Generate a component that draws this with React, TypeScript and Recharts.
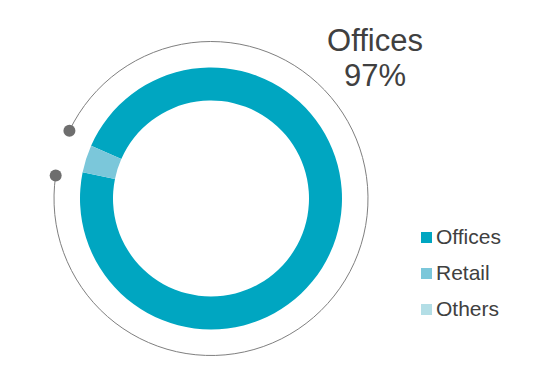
import React from 'react';
import { PieChart, Pie, Cell, Legend } from 'recharts';

const categories = ['Offices', 'Retail', 'Others'];
const shares = [96.6, 3.4, 0];
const colors = ['#00A6C1', '#7BC7DA', '#B3DEE6'];

const ringData = categories.map((name, i) => ({ name, value: shares[i] }));
const arcData = [{ name: 'arc', value: 1 }];

const RAD = Math.PI / 180;
const polar = (cx: number, cy: number, r: number, a: number) => ({
  x: cx + r * Math.cos(-a * RAD),
  y: cy + r * Math.sin(-a * RAD),
});

// thin gray arc with a dot on each end
const ArcShape = (props: any) => {
  const { cx, cy, outerRadius, startAngle, endAngle } = props;
  const p0 = polar(cx, cy, outerRadius, startAngle);
  const p1 = polar(cx, cy, outerRadius, endAngle);
  const large = Math.abs(startAngle - endAngle) > 180 ? 1 : 0;
  const sweep = startAngle > endAngle ? 1 : 0;
  return (
    <g>
      <path
        d={`M${p0.x},${p0.y} A${outerRadius},${outerRadius} 0 ${large} ${sweep} ${p1.x},${p1.y}`}
        fill="none"
        stroke="#7f7f7f"
        strokeWidth={1}
      />
      <circle cx={p0.x} cy={p0.y} r={6} fill="#6e6e6e" />
      <circle cx={p1.x} cy={p1.y} r={6} fill="#6e6e6e" />
    </g>
  );
};

const LegendContent = () => (
  <div style={{ fontFamily: '"Liberation Sans", Arial, sans-serif' }}>
    {categories.map((c, i) => (
      <div key={c} style={{ display: 'flex', alignItems: 'center', height: 36 }}>
        <span style={{ width: 11, height: 11, background: colors[i], marginRight: 4, display: 'inline-block' }} />
        <span style={{ fontSize: 21, color: '#404040' }}>{c}</span>
      </div>
    ))}
  </div>
);

export default function App() {
  return (
    <div style={{ position: 'absolute', left: 0, top: 0, width: 551, height: 387, background: '#fff' }}>
      <PieChart width={551} height={387} margin={{ top: 0, right: 0, bottom: 0, left: 0 }}>
        <Pie
          data={arcData}
          dataKey="value"
          cx={211}
          cy={198.5}
          innerRadius={157}
          outerRadius={157}
          startAngle={154.4}
          endAngle={-188.4}
          shape={ArcShape}
          isAnimationActive={false}
          legendType="none"
        />
        <Pie
          data={ringData}
          dataKey="value"
          nameKey="name"
          cx={211}
          cy={198.5}
          innerRadius={98}
          outerRadius={131}
          startAngle={156.25}
          endAngle={-203.75}
          stroke="none"
          isAnimationActive={false}
        >
          {ringData.map((d, i) => (
            <Cell key={d.name} fill={colors[i]} />
          ))}
        </Pie>
        <Legend
          content={<LegendContent />}
          wrapperStyle={{ position: 'absolute', left: 421, top: 219, width: 120 }}
        />
      </PieChart>
      <div
        style={{
          position: 'absolute',
          left: 295,
          top: 23,
          width: 160,
          textAlign: 'center',
          fontFamily: '"Liberation Sans", Arial, sans-serif',
          fontSize: 31,
          lineHeight: '35px',
          color: '#404040',
        }}
      >
        <div>{categories[0]}</div>
        <div>{Math.round(shares[0])}%</div>
      </div>
    </div>
  );
}
